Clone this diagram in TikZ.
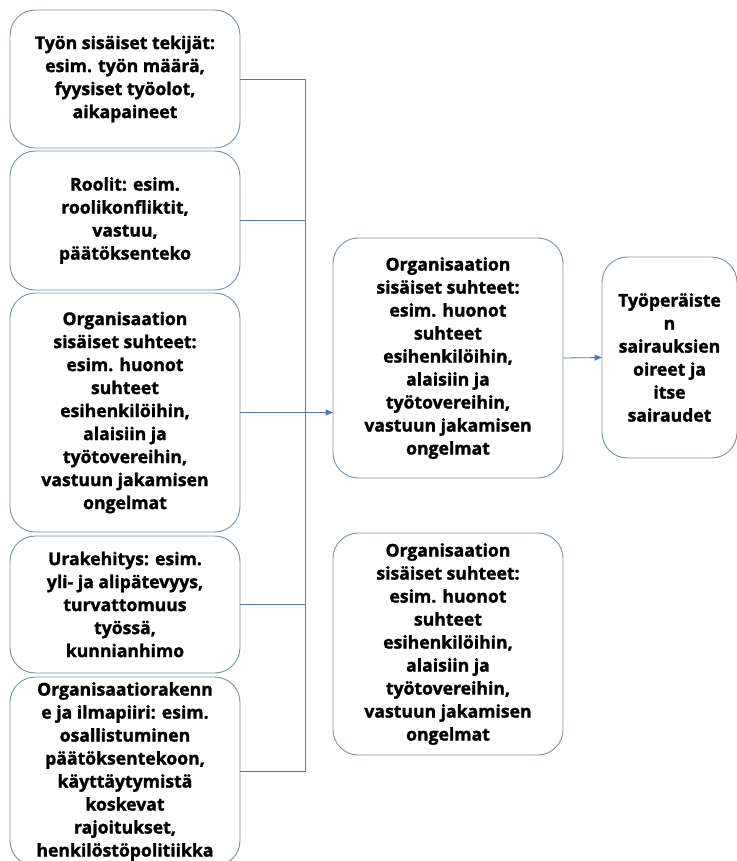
\documentclass[tikz,border=0pt]{standalone}
\usepackage{fontspec}
\setmainfont{Open Sans}[BoldFeatures={FakeBold=1.5}]
\usepackage{tikz}
\usetikzlibrary{arrows.meta}
\definecolor{boxline}{RGB}{125,145,175}
\definecolor{linkblue}{RGB}{80,120,180}

\begin{document}
\begin{tikzpicture}[x=0.75pt,y=-0.75pt,
    box/.style={draw=boxline,line width=0.7pt,rounded corners=19pt,fill=white,
      inner sep=0pt,outer sep=0pt,align=center,
      font=\fontsize{13.2}{17.25}\selectfont\bfseries},
    link/.style={draw=linkblue,line width=0.6pt},
    arr/.style={link,-{Triangle[length=5.5pt,width=4.5pt]}}]
    \useasboundingbox (0,0) rectangle (737,861);

    % --- Vasen sarake (tekijät)
    \node[box,minimum width=172.5pt,minimum height=103.5pt] (tyo) at (125,79)
      {Työn sisäiset tekijät:\\esim. työn määrä,\\fyysiset työolot,\\aikapaineet};
    \node[box,minimum width=172.5pt,minimum height=104.25pt] (roolit) at (125,220.5)
      {Roolit: esim.\\roolikonfliktit,\\vastuu,\\päätöksenteko};
    \node[box,minimum width=172.5pt,minimum height=179.25pt] (suhteet) at (125,412.5)
      {Organisaation\\sisäiset suhteet:\\esim. huonot\\suhteet\\esihenkilöihin,\\alaisiin ja\\työtovereihin,\\vastuun jakamisen\\ongelmat};
    \node[box,minimum width=172.5pt,minimum height=102.75pt] (ura) at (125,604.5)
      {Urakehitys: esim.\\yli- ja alipätevyys,\\turvattomuus\\työssä,\\kunnianhimo};
    \node[box,minimum width=172.5pt,minimum height=141.75pt] (rakenne) at (125,771.5)
      {Organisaatiorakenn\\e ja ilmapiiri: esim.\\osallistuminen\\päätöksentekoon,\\käyttäytymistä\\koskevat\\rajoitukset,\\henkilöstöpolitiikka};

    % --- Keskimmäinen sarake
    \node[box,minimum width=172.5pt,minimum height=180pt] (keski) at (448,358)
      {Organisaation\\sisäiset suhteet:\\esim. huonot\\suhteet\\esihenkilöihin,\\alaisiin ja\\työtovereihin,\\vastuun jakamisen\\ongelmat};
    \node[box,minimum width=172.5pt,minimum height=166.5pt] (alempi) at (448,644)
      {Organisaation\\sisäiset suhteet:\\esim. huonot\\suhteet\\esihenkilöihin,\\alaisiin ja\\työtovereihin,\\vastuun jakamisen\\ongelmat};

    % --- Oikea sarake
    \node[box,minimum width=101.25pt,minimum height=150.75pt] (oireet) at (669.5,357.5)
      {Työperäiste\\n\\sairauksien\\oireet ja\\itse\\sairaudet};

    % Kokoojaviiva
    \coordinate (bus) at (305,0);
    \draw[link] (tyo.east) -- (tyo.east -| bus) -- (rakenne.east -| bus) -- (rakenne.east);
    \draw[link] (roolit.east) -- (roolit.east -| bus);
    \draw[link] (ura.east) -- (ura.east -| bus);
    \draw[arr] (suhteet.east) -- (suhteet.east -| keski.west);
    \draw[arr] (keski.east) -- (oireet.west);
  \end{tikzpicture}
\end{document}
